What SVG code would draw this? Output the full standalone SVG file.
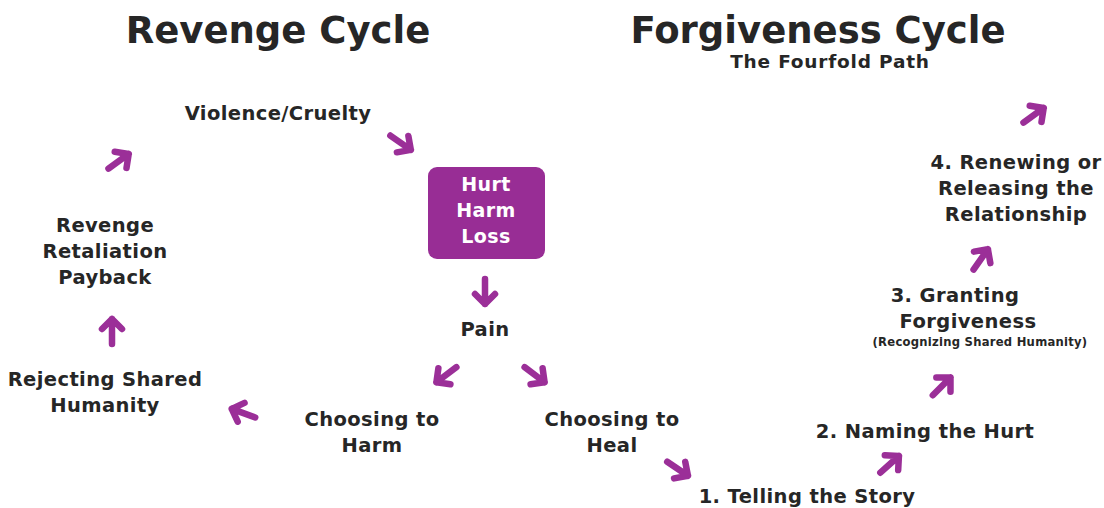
<svg xmlns="http://www.w3.org/2000/svg" width="1104" height="508" viewBox="0 0 1104 508">
<style>
text{font-family:"DejaVu Sans","Liberation Sans",sans-serif;font-weight:bold;fill:#262626;text-anchor:middle}
.title{font-size:37px}
.lbl{font-size:19.5px;letter-spacing:0.4px}
.sub{font-size:18.5px;letter-spacing:0.8px}
.small{font-size:11.6px;letter-spacing:0.25px}
.box{fill:#982d95}
.boxtxt{fill:#ffffff;font-size:19px;letter-spacing:0.4px}
.arr{fill:none;stroke:#9b2f98;stroke-width:6.5;stroke-linecap:round;stroke-linejoin:round}
</style>
<defs>
<path id="arrow" class="arr" d="M-13,0 H12 M2,-10 L12,0 L2,10"/>
</defs>
<rect width="1104" height="508" fill="#ffffff"/>
<g id="titles">
<text class="title" x="278" y="43">Revenge Cycle</text>
<text class="title" x="818" y="43">Forgiveness Cycle</text>
<text class="sub" x="830" y="68">The Fourfold Path</text>
</g>
<g id="node-hurt">
<rect class="box" x="428" y="167" width="117" height="92" rx="9"/>
<text class="boxtxt" x="486" y="191">Hurt</text>
<text class="boxtxt" x="486" y="217">Harm</text>
<text class="boxtxt" x="486" y="243">Loss</text>
</g>
<g id="node-violence"><text class="lbl" x="278" y="120">Violence/Cruelty</text></g>
<g id="node-revenge">
<text class="lbl" x="105" y="232">Revenge</text>
<text class="lbl" x="105" y="258">Retaliation</text>
<text class="lbl" x="105" y="284">Payback</text>
</g>
<g id="node-rejecting">
<text class="lbl" x="105" y="386">Rejecting Shared</text>
<text class="lbl" x="105" y="412">Humanity</text>
</g>
<g id="node-pain"><text class="lbl" x="485" y="336">Pain</text></g>
<g id="node-harm">
<text class="lbl" x="372" y="426">Choosing to</text>
<text class="lbl" x="372" y="452">Harm</text>
</g>
<g id="node-heal">
<text class="lbl" x="612" y="426">Choosing to</text>
<text class="lbl" x="612" y="452">Heal</text>
</g>
<g id="node-step1"><text class="lbl" x="807" y="503">1. Telling the Story</text></g>
<g id="node-step2"><text class="lbl" x="925" y="438">2. Naming the Hurt</text></g>
<g id="node-step3">
<text class="lbl" x="955" y="302">3. Granting</text>
<text class="lbl" x="968" y="328">Forgiveness</text>
<text class="small" x="980" y="346">(Recognizing Shared Humanity)</text>
</g>
<g id="node-step4">
<text class="lbl" x="1016" y="169">4. Renewing or</text>
<text class="lbl" x="1016" y="195">Releasing the</text>
<text class="lbl" x="1016" y="221">Relationship</text>
</g>
<g id="connectors">
<use href="#arrow" transform="translate(401,143) rotate(35)"/>
<use href="#arrow" transform="translate(119,161) rotate(-36)"/>
<use href="#arrow" transform="translate(112,331) rotate(-90)"/>
<use href="#arrow" transform="translate(485,292) rotate(90)"/>
<use href="#arrow" transform="translate(446,375) rotate(143)"/>
<use href="#arrow" transform="translate(535,375) rotate(37)"/>
<use href="#arrow" transform="translate(243,413) rotate(200)"/>
<use href="#arrow" transform="translate(678,469) rotate(34)"/>
<use href="#arrow" transform="translate(890,464) rotate(-42)"/>
<use href="#arrow" transform="translate(942,386) rotate(-45)"/>
<use href="#arrow" transform="translate(981,259) rotate(-55)"/>
<use href="#arrow" transform="translate(1034,115) rotate(-36)"/>
</g>
</svg>
